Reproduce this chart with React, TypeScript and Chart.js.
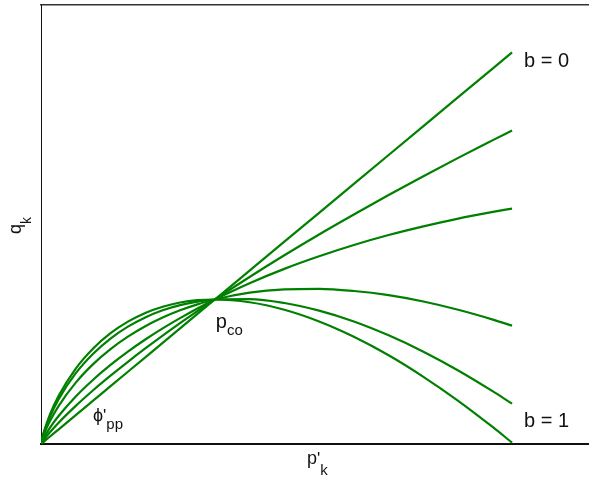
import { useEffect, useRef } from "react";
import { Chart, registerables } from "chart.js";

Chart.register(...registerables);

// p'/p_co sample positions
const P = [0, 0.01, 0.02, 0.05, 0.1, 0.2, 0.3, 0.4, 0.5, 0.6, 0.7, 0.8, 0.9, 1, 1.2, 1.4, 1.6, 1.8, 2, 2.2, 2.4, 2.6, 2.71];
const B_LABELS = ["b = 0", "b = 0.2", "b = 0.4", "b = 0.7", "b = 0.9", "b = 1"];
// q/(M p_co) for each curve
const Q_B00 = [0, 0.01, 0.02, 0.05, 0.1, 0.2, 0.3, 0.4, 0.5, 0.6, 0.7, 0.8, 0.9, 1, 1.2, 1.4, 1.6, 1.8, 2, 2.2, 2.4, 2.6, 2.71];
const Q_B02 = [0, 0.019, 0.036, 0.08, 0.146, 0.264, 0.372, 0.473, 0.569, 0.661, 0.75, 0.836, 0.919, 1, 1.156, 1.306, 1.45, 1.588, 1.723, 1.853, 1.98, 2.103, 2.17];
const Q_B04 = [0, 0.028, 0.051, 0.11, 0.192, 0.329, 0.445, 0.547, 0.639, 0.723, 0.8, 0.871, 0.938, 1, 1.113, 1.212, 1.299, 1.377, 1.446, 1.506, 1.56, 1.606, 1.629];
const Q_B07 = [0, 0.042, 0.075, 0.155, 0.261, 0.425, 0.553, 0.657, 0.743, 0.815, 0.875, 0.925, 0.966, 1, 1.047, 1.07, 1.074, 1.059, 1.03, 0.986, 0.929, 0.861, 0.819];
const Q_B09 = [0, 0.051, 0.09, 0.185, 0.307, 0.49, 0.625, 0.73, 0.812, 0.876, 0.925, 0.961, 0.985, 1, 1.003, 0.976, 0.923, 0.848, 0.752, 0.639, 0.509, 0.364, 0.279];
const Q_B10 = [0, 0.056, 0.098, 0.2, 0.33, 0.522, 0.661, 0.767, 0.847, 0.907, 0.95, 0.979, 0.995, 1, 0.981, 0.929, 0.848, 0.742, 0.614, 0.465, 0.299, 0.116, 0.009];
const SERIES = [Q_B00, Q_B02, Q_B04, Q_B07, Q_B09, Q_B10];

const X_MAX = 3.216;
const Y_MAX = 3.038;
const GREEN = "#008000";
const FONT = '"Liberation Sans", Arial, sans-serif';

type Part = [string, number, number];

function drawRich(ctx: CanvasRenderingContext2D, x: number, y: number, parts: Part[]) {
  let cx = x;
  for (const [t, size, dy] of parts) {
    ctx.font = `${size}px ${FONT}`;
    ctx.fillText(t, cx, y + dy);
    cx += ctx.measureText(t).width;
  }
}

const labelsPlugin = {
  id: "labels",
  afterDraw(chart: any) {
    const ctx: CanvasRenderingContext2D = chart.ctx;
    const xs = chart.scales.x;
    const ys = chart.scales.y;
    ctx.save();
    ctx.fillStyle = "#111";
    ctx.textBaseline = "alphabetic";
    ctx.textAlign = "left";
    const xEnd = xs.getPixelForValue(P[P.length - 1]);
    drawRich(ctx, xEnd + 12, ys.getPixelForValue(Q_B00[Q_B00.length - 1]) + 15, [["b = 0", 20, 0]]);
    drawRich(ctx, xEnd + 12, ys.getPixelForValue(Q_B10[Q_B10.length - 1]) - 16, [["b = 1", 20, 0]]);
    const xc = xs.getPixelForValue(1);
    const yc = ys.getPixelForValue(1);
    drawRich(ctx, xc + 1, yc + 29, [["p", 20, 0], ["co", 15, 7]]);
    drawRich(ctx, 93, 421, [["ϕ", 18, 0], ["'", 17, 0], ["pp", 15, 8]]);
    drawRich(ctx, 307, 464, [["p", 18, 0], ["'", 17, 0], ["k", 15, 11]]);
    ctx.translate(21, 234);
    ctx.rotate(-Math.PI / 2);
    drawRich(ctx, 0, 0, [["q", 18, 0], ["k", 14, 10]]);
    ctx.restore();
  },
};

export default function App() {
  const ref = useRef<HTMLCanvasElement>(null);
  useEffect(() => {
    document.body.style.margin = "0";
    const canvas = ref.current!;
    const chart = new Chart(canvas, {
      type: "line",
      data: {
        datasets: SERIES.map((q, k) => ({
          label: B_LABELS[k],
          data: P.map((p, i) => ({ x: p, y: q[i] })),
          borderColor: GREEN,
          borderWidth: 2.2,
          pointRadius: 0,
          fill: false,
          cubicInterpolationMode: "monotone" as const,
        })),
      },
      options: {
        animation: false,
        responsive: false,
        events: [],
        layout: { padding: { left: 41, top: 5, right: 0, bottom: 38 } },
        plugins: { legend: { display: false }, tooltip: { enabled: false } },
        scales: {
          x: {
            type: "linear",
            position: "bottom",
            min: 0,
            max: X_MAX,
            ticks: { display: false },
            grid: { display: false, drawTicks: false },
            border: { display: true, color: "#111", width: 2 },
          },
          x2: {
            type: "linear",
            position: "top",
            min: 0,
            max: X_MAX,
            ticks: { display: false },
            grid: { display: false, drawTicks: false },
            border: { display: true, color: "#333", width: 1.5 },
          },
          y: {
            type: "linear",
            min: 0,
            max: Y_MAX,
            ticks: { display: false },
            grid: { display: false, drawTicks: false },
            border: { display: true, color: "#111", width: 1 },
          },
        },
      },
      plugins: [labelsPlugin],
    });
    return () => chart.destroy();
  }, []);
  return (
    <div style={{ width: 589, height: 482, overflow: "hidden", position: "relative" }}>
      <canvas ref={ref} width={600} height={482} style={{ display: "block" }} />
    </div>
  );
}
